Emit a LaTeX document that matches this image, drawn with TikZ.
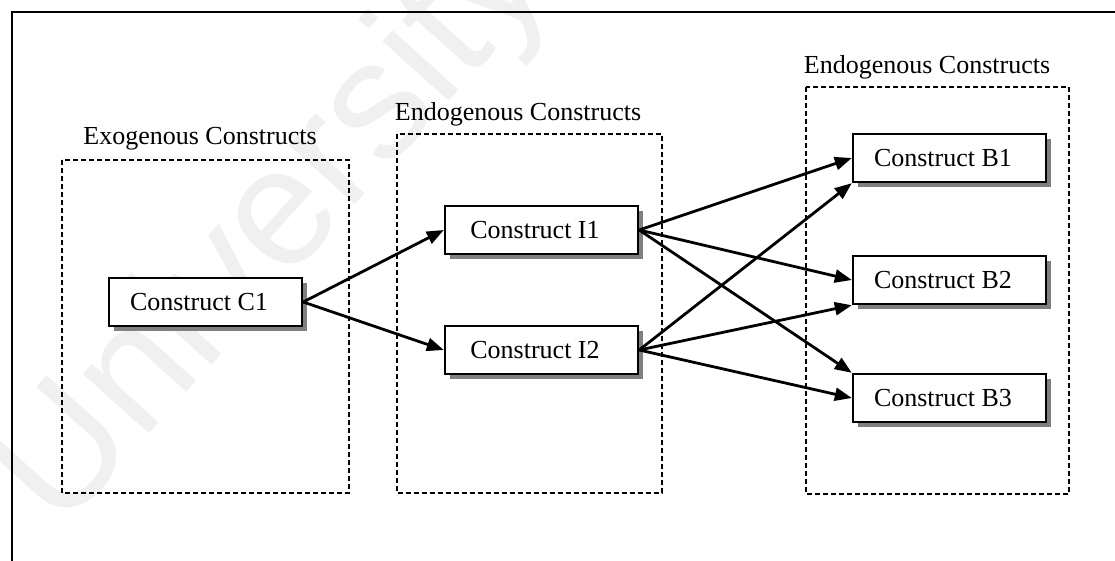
\documentclass[tikz,border=0pt]{standalone}
\usepackage{fontspec}
\setmainfont{Liberation Serif}
\newfontfamily\wmfont{Liberation Sans}
\usetikzlibrary{arrows.meta,shadows}

\begin{document}
\begin{tikzpicture}[x=1pt,y=-1pt,
  construct/.style={draw, line width=2.4pt, fill=white,
    minimum width=193pt, minimum height=48pt, inner sep=0pt,
    font=\fontsize{26}{30}\selectfont,
    execute at end node={\hspace*{13pt}},
    drop shadow={shadow xshift=5pt, shadow yshift=-5pt, fill=black!50, opacity=1}},
  group/.style={draw, line width=1.3pt, dash pattern=on 5pt off 3pt},
  grouplabel/.style={font=\fontsize{26}{30}\selectfont, anchor=base, inner sep=0pt},
  link/.style={-{Triangle[length=17pt,width=13pt]}, line width=2.8pt},
  frame/.style={line width=2.2pt}]

\useasboundingbox (0,0) rectangle (1115,560);

% faint background lettering
\node[rotate=48, text=black!6, font=\wmfont\fontsize{168}{168}\selectfont]
  (wm) at (275,230) {University};

% outer frame (top and left edges)
\draw[frame] (12,561) |- (1116,12);

% construct groups
\draw[group] (62,160) rectangle (349,493);
\draw[group] (397,134) rectangle (662,493);
\draw[group] (806,87) rectangle (1069,494);

\node[grouplabel] (lexo) at (200,144) {Exogenous Constructs};
\node[grouplabel] (lmid) at (518,120) {Endogenous Constructs};
\node[grouplabel] (lend) at (927,73) {Endogenous Constructs};

% constructs
\node[construct] (C1) at (205.5,302) {Construct C1};
\node[construct] (I1) at (541.5,230) {Construct I1};
\node[construct] (I2) at (541.5,350) {Construct I2};
\node[construct] (B1) at (949.5,158) {Construct B1};
\node[construct] (B2) at (949.5,280) {Construct B2};
\node[construct] (B3) at (949.5,398) {Construct B3};

% paths
\draw[link] (C1.east) -- (I1.west);
\draw[link] (C1.east) -- (I2.west);
\draw[link] (I1.east) -- (B1.west);
\draw[link] (I1.east) -- (B2.west);
\draw[link] (I1.east) -- (B3.north west);
\draw[link] (I2.east) -- (B1.south west);
\draw[link] (I2.east) -- (B2.south west);
\draw[link] (I2.east) -- (B3.west);
\end{tikzpicture}
\end{document}
